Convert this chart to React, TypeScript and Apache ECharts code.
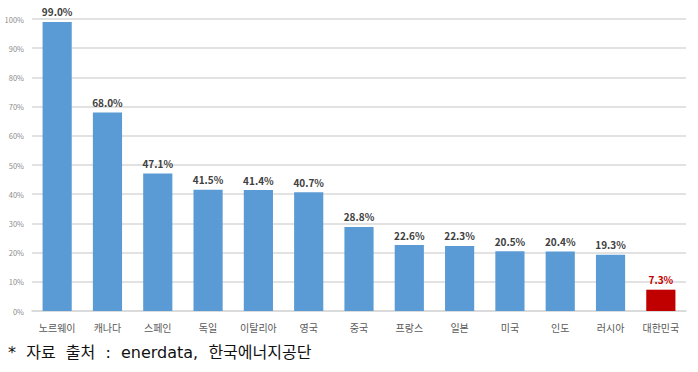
import React, { useEffect, useRef } from "react";
import * as echarts from "echarts";

const categories = ["노르웨이", "캐나다", "스페인", "독일", "이탈리아", "영국", "중국", "프랑스", "일본", "미국", "인도", "러시아", "대한민국"];
const values = [99.0, 68.0, 47.1, 41.5, 41.4, 40.7, 28.8, 22.6, 22.3, 20.5, 20.4, 19.3, 7.3];
const highlight = "대한민국";
const footnote = "*  자료  출처  :  enerdata,  한국에너지공단";

export default function App() {
  const ref = useRef<HTMLDivElement>(null);
  useEffect(() => {
    const chart = echarts.init(ref.current!, null, { renderer: "svg" });
    const font = "'Noto Sans CJK KR', 'Noto Sans', sans-serif";
    chart.setOption({
      animation: false,
      grid: { left: 32, right: 12, top: 19, bottom: 61 },
      xAxis: {
        type: "category",
        data: categories,
        axisTick: { show: false },
        axisLine: { lineStyle: { color: "#d9d9d9", width: 1.5 } },
        axisLabel: { color: "#595959", fontSize: 10, margin: 11, fontFamily: font, interval: 0 },
      },
      yAxis: {
        type: "value",
        min: 0,
        max: 100,
        interval: 10,
        axisLabel: { formatter: "{value}%", color: "#8c8c8c", fontSize: 7.5, margin: 8, fontFamily: font },
        splitLine: { lineStyle: { color: "#d9d9d9", width: 1.5 } },
        axisLine: { show: false },
        axisTick: { show: false },
      },
      series: [
        {
          type: "bar",
          barWidth: "58%",
          data: values.map((v, i) => {
            const hl = categories[i] === highlight;
            return {
              value: v,
              itemStyle: { color: hl ? "#c00000" : "#5b9bd5" },
              label: { color: hl ? "#c00000" : "#404040" },
            };
          }),
          label: {
            show: true,
            position: "top",
            distance: 5,
            formatter: (p: any) => p.value.toFixed(1) + "%",
            fontSize: 10,
            fontWeight: "bold",
            fontFamily: font,
          },
        },
      ],
      graphic: [
        {
          type: "text",
          left: 8,
          top: 344,
          style: { text: footnote, fontSize: 16, fill: "#111", fontFamily: "'DejaVu Sans', 'Noto Sans CJK KR', sans-serif" },
        },
      ],
    });
    return () => chart.dispose();
  }, []);
  return <div ref={ref} style={{ width: 698, height: 372, position: "absolute", left: 0, top: 0 }} />;
}
